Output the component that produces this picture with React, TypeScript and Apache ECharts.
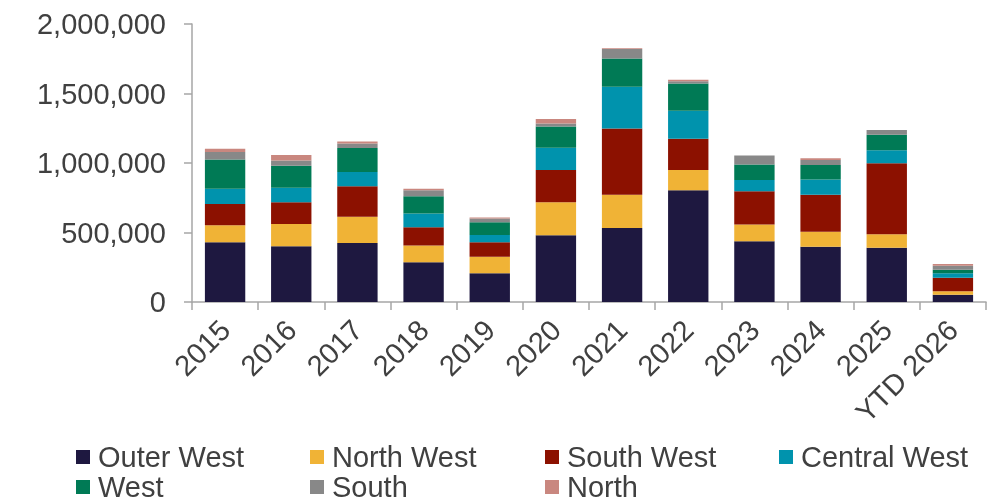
import React, { useEffect, useRef } from "react";
import * as echarts from "echarts";

const categories = ["2015", "2016", "2017", "2018", "2019", "2020", "2021", "2022", "2023", "2024", "2025", "YTD 2026"];
const seriesNames = ["Outer West", "North West", "South West", "Central West", "West", "South", "North"];
const outerWest = [429600, 400900, 425300, 285900, 206900, 479900, 533000, 803100, 436700, 397200, 390600, 52500];
const northWest = [122100, 160900, 188900, 120000, 117800, 237100, 239200, 146500, 120000, 107800, 96400, 24500];
const southWest = [153700, 155200, 217700, 131500, 104900, 232800, 476200, 224800, 239200, 265800, 510800, 97800];
const centralWest = [109900, 105600, 103400, 98400, 53200, 160200, 299500, 201100, 81900, 110600, 93500, 31700];
const west = [210500, 158000, 172400, 124300, 90500, 153200, 203300, 196100, 112100, 104900, 112200, 25900];
const south = [53200, 38100, 33000, 43100, 26600, 21600, 69700, 17200, 64700, 35900, 33800, 28800];
const north = [23700, 38800, 14400, 12200, 7200, 31600, 4000, 9300, 0, 12200, 0, 12200];
const colors = ["#1e1840", "#f0b336", "#8c1100", "#0093ad", "#007a55", "#888888", "#c9877f"];
const yTicks = { min: 0, max: 2000000, interval: 500000 };

const FONT = "'Liberation Sans', Arial, sans-serif";
const TEXT = "#404040";
const AXIS = "#a6a6a6";
const FS = 29;

export default function App() {
  const ref = useRef<HTMLDivElement>(null);
  useEffect(() => {
    if (!ref.current) return;
    const chart = echarts.init(ref.current, undefined, { renderer: "svg" });
    const values = [outerWest, northWest, southWest, centralWest, west, south, north];
    const legendCols = [
      { data: ["Outer West", "West"], left: 76 },
      { data: ["North West", "South"], left: 310 },
      { data: ["South West", "North"], left: 545 },
      { data: ["Central West"], left: 779 },
    ];
    chart.setOption({
      animation: false,
      color: colors,
      textStyle: { fontFamily: FONT },
      grid: { left: 192, right: 14, top: 24, bottom: 201, containLabel: false },
      legend: legendCols.map((c) => ({
        data: c.data,
        left: c.left,
        top: 442,
        orient: "vertical",
        itemGap: 0,
        itemWidth: 14,
        itemHeight: 14,
        icon: "rect",
        padding: 0,
        selectedMode: false,
        textStyle: { fontSize: FS, color: TEXT, fontFamily: FONT, lineHeight: 30, padding: [0, 0, 0, 3] },
      })),
      xAxis: {
        type: "category",
        data: categories,
        axisLine: { show: true, lineStyle: { color: AXIS, width: 1.5 } },
        axisTick: { show: true, length: 8, lineStyle: { color: AXIS, width: 1.5 } },
        axisLabel: { interval: 0, rotate: 45, fontSize: FS, color: TEXT, margin: 23, fontFamily: FONT },
      },
      yAxis: {
        type: "value",
        min: yTicks.min,
        max: yTicks.max,
        interval: yTicks.interval,
        splitLine: { show: false },
        axisLine: { show: true, lineStyle: { color: AXIS, width: 1.5 } },
        axisTick: { show: true, length: 8, lineStyle: { color: AXIS, width: 1.5 } },
        axisLabel: {
          fontSize: FS,
          color: TEXT,
          margin: 26,
          fontFamily: FONT,
          formatter: (v: number) => v.toLocaleString("en-US"),
        },
      },
      series: seriesNames.map((name, i) => ({
        name,
        type: "bar",
        stack: "total",
        barWidth: "61%",
        data: values[i],
        itemStyle: { color: colors[i] },
      })),
    });
    return () => chart.dispose();
  }, []);
  return <div ref={ref} style={{ position: "fixed", left: 0, top: 0, width: 1000, height: 503 }} />;
}
